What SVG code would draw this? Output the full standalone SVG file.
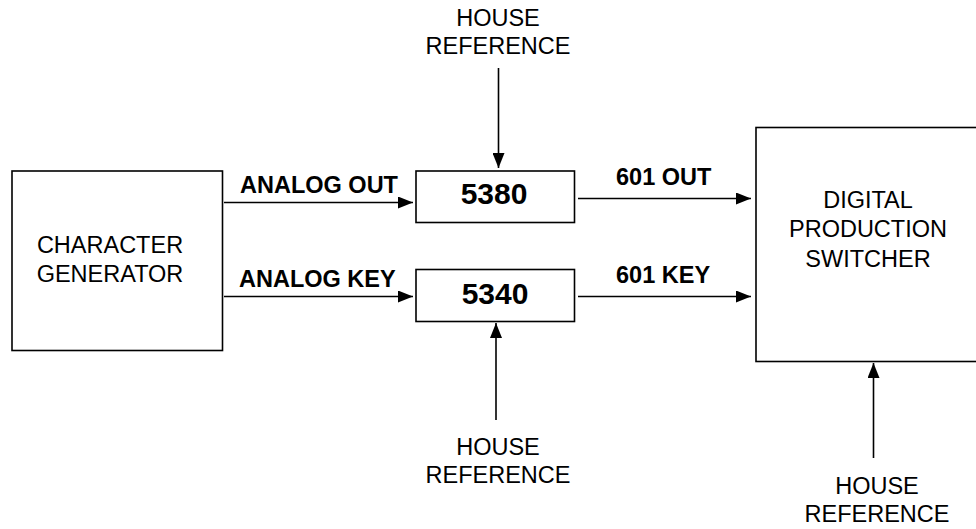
<svg xmlns="http://www.w3.org/2000/svg" width="976" height="529" viewBox="0 0 976 529">
<style>
.box{fill:#fff;stroke:#000;stroke-width:1.6}
.t{font-family:"Liberation Sans",Arial,sans-serif;font-size:23.5px;fill:#000;text-anchor:middle}
.b{font-family:"Liberation Sans",Arial,sans-serif;font-size:23.5px;font-weight:bold;fill:#000}
.big{font-family:"Liberation Sans",Arial,sans-serif;font-size:30px;font-weight:bold;fill:#000;text-anchor:middle}
.c{stroke:#000;stroke-width:1.6;fill:none;marker-end:url(#ah)}
</style>
<defs>
<marker id="ah" markerUnits="userSpaceOnUse" markerWidth="16" markerHeight="12" refX="15" refY="6" orient="auto">
<path d="M0,0 L15,6 L0,12 Z" fill="#000"/>
</marker>
</defs>
<rect width="976" height="529" fill="#fff"/>
<g id="connectors">
<line class="c" x1="224" y1="202.5" x2="413" y2="202.5"/>
<line class="c" x1="224" y1="296.5" x2="413" y2="296.5"/>
<line class="c" x1="578" y1="198.5" x2="751" y2="198.5"/>
<line class="c" x1="578" y1="296.5" x2="751" y2="296.5"/>
<line class="c" x1="498.5" y1="68" x2="498.5" y2="168"/>
<line class="c" x1="496" y1="420" x2="496" y2="323"/>
<line class="c" x1="873.5" y1="458" x2="873.5" y2="363"/>
<text class="b" x="240" y="193">ANALOG OUT</text>
<text class="b" x="239" y="287">ANALOG KEY</text>
<text class="b" x="616" y="185">601 OUT</text>
<text class="b" x="616" y="283">601 KEY</text>
</g>
<g id="character-generator">
<rect class="box" x="12" y="171" width="210.5" height="179.5"/>
<text class="t" x="110" y="253">CHARACTER</text>
<text class="t" x="110" y="281.5">GENERATOR</text>
</g>
<g id="n5380">
<rect class="box" x="416" y="171" width="158.5" height="51.5"/>
<text class="big" x="494" y="204">5380</text>
</g>
<g id="n5340">
<rect class="box" x="416" y="269.5" width="158.5" height="52"/>
<text class="big" x="495" y="304">5340</text>
</g>
<g id="switcher">
<rect class="box" x="756" y="127.5" width="240" height="234"/>
<text class="t" x="868" y="208">DIGITAL</text>
<text class="t" x="868" y="237">PRODUCTION</text>
<text class="t" x="868" y="267">SWITCHER</text>
</g>
<g id="ref-top">
<text class="t" x="498" y="26">HOUSE</text>
<text class="t" x="498" y="54">REFERENCE</text>
</g>
<g id="ref-5340">
<text class="t" x="498" y="455">HOUSE</text>
<text class="t" x="498" y="483">REFERENCE</text>
</g>
<g id="ref-switcher">
<text class="t" x="877" y="494">HOUSE</text>
<text class="t" x="877" y="522">REFERENCE</text>
</g>
</svg>
